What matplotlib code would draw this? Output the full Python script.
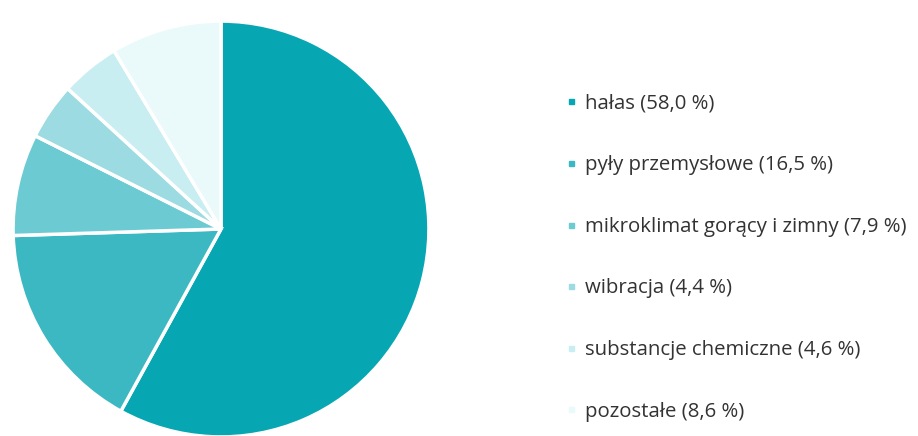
import matplotlib.pyplot as plt
from matplotlib.lines import Line2D

labels = ["hałas", "pyły przemysłowe", "mikroklimat gorący i zimny",
          "wibracja", "substancje chemiczne", "pozostałe"]
values = [58.0, 16.5, 7.9, 4.4, 4.6, 8.6]
colors = ["#06a7b2", "#3cb8c2", "#6ccad2", "#9bdbe1", "#c9eef1", "#eaf9fa"]

plt.rcParams['font.family'] = ['Open Sans', 'DejaVu Sans']

fig = plt.figure(figsize=(9.18, 4.36), dpi=100)

ax = fig.add_axes([11 / 918, -3 / 436, 420 / 918, 420 / 436])
ax.pie(values, colors=colors, startangle=90, counterclock=False,
       wedgeprops=dict(edgecolor="white", linewidth=2.5))
ax.set_xlim(-1.01, 1.01)
ax.set_ylim(-1.01, 1.01)
ax.set_aspect("equal")

handles = [Line2D([], [], marker="s", linestyle="none", markersize=3.6,
                  markerfacecolor=c, markeredgecolor=c) for c in colors]
texts = ["%s (%s %%)" % (l, ("%.1f" % v).replace(".", ",")) for l, v in zip(labels, values)]
leg = fig.legend(handles, texts, loc="upper left", bbox_to_anchor=(548 / 918, 1 - 75 / 436),
                 frameon=False, fontsize=14.7, labelspacing=2.04, handlelength=0.5,
                 handletextpad=0.4, labelcolor="#333333")

fig.savefig("out.png", dpi=100, facecolor="white")
